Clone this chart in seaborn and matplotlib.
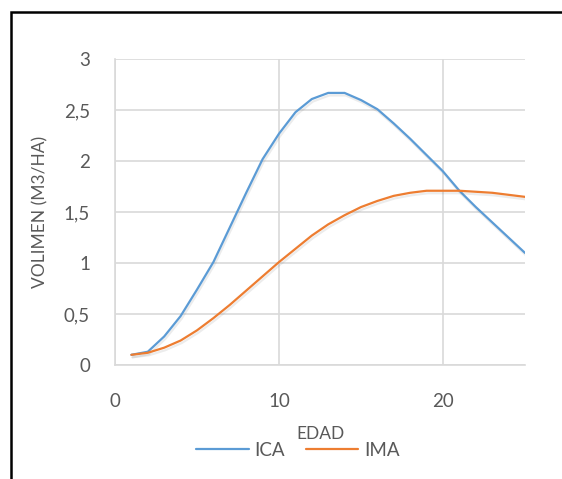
import matplotlib

matplotlib.use("Agg")
import matplotlib.patheffects as pe
import matplotlib.pyplot as plt
import pandas as pd
import seaborn as sns
from matplotlib.patches import Rectangle

edad = list(range(1, 26))
ica = [0.10, 0.13, 0.28, 0.48, 0.74, 1.01, 1.35, 1.69, 2.02, 2.27, 2.48, 2.61, 2.67,
       2.67, 2.60, 2.51, 2.37, 2.22, 2.06, 1.90, 1.71, 1.55, 1.40, 1.25, 1.10]
ima = [0.10, 0.12, 0.17, 0.24, 0.34, 0.46, 0.59, 0.73, 0.87, 1.01, 1.14, 1.27, 1.38,
       1.47, 1.55, 1.61, 1.66, 1.69, 1.71, 1.71, 1.71, 1.70, 1.69, 1.67, 1.65]
y_ticks = [0, 0.5, 1, 1.5, 2, 2.5, 3]
y_labels = ["0", "0,5", "1", "1,5", "2", "2,5", "3"]
x_ticks = [0, 10, 20]
x_labels = ["0", "10", "20"]

df = pd.DataFrame({"EDAD": edad * 2, "valor": ica + ima,
                   "serie": ["ICA"] * len(edad) + ["IMA"] * len(edad)})

sns.set_style("white")
plt.rcParams["font.family"] = ["Lato", "DejaVu Sans"]
text_color = "#595959"
grid_color = "#D9D9D9"

fig = plt.figure(figsize=(5.62, 4.79), dpi=100, facecolor="white")
ax = fig.add_axes([115 / 562, 1 - 365 / 479, 410 / 562, (365 - 59.3) / 479])

# soft Excel-like shadow under the series
shadow = [pe.SimpleLineShadow(offset=(0.8, -1.8), shadow_color="gray", alpha=0.15), pe.Normal()]
sns.lineplot(data=df, x="EDAD", y="valor", hue="serie", palette=["#5B9BD5", "#ED7D31"],
             linewidth=1.6, ax=ax, legend=True)
for line in ax.lines:
    line.set_path_effects(shadow)
    line.set_solid_joinstyle("round")

ax.set_xlim(0, 25)
ax.set_ylim(0, 3)
ax.set_xticks(x_ticks)
ax.set_xticklabels(x_labels)
ax.set_yticks(y_ticks)
ax.set_yticklabels(y_labels)
ax.tick_params(axis="both", length=0, labelsize=13.5, labelcolor=text_color)
ax.tick_params(axis="x", pad=20)
ax.tick_params(axis="y", pad=18)
ax.grid(True, color=grid_color, linewidth=1.2)
for side in ["top", "right"]:
    ax.spines[side].set_visible(False)
for side in ["left", "bottom"]:
    ax.spines[side].set_color(grid_color)
    ax.spines[side].set_linewidth(1.2)

ax.set_xlabel("")
ax.set_ylabel("")
fig.text(40 / 562, 1 - 212 / 479, "VOLIMEN (M3/HA)", rotation=90, ha="center", va="center",
         fontsize=12.5, color=text_color)
fig.text(321 / 562, 1 - 434 / 479, "EDAD", ha="center", va="center", fontsize=12.5, color=text_color)

ax.legend_.remove()
handles = ax.lines[:2]
leg = fig.legend(handles, ["ICA", "IMA"], loc="center", bbox_to_anchor=(298 / 562, 1 - 450 / 479),
                 ncol=2, frameon=False, fontsize=13.5, handlelength=2.8, handletextpad=0.3,
                 columnspacing=1.1, labelcolor=text_color)
for h in leg.legend_handles:
    h.set_path_effects([])

fig.patches.append(Rectangle((11 / 562, -0.05), 1.2, 1 - 12 / 479 + 0.05, transform=fig.transFigure,
                             fill=False, edgecolor="black", linewidth=1.8, figure=fig))

fig.savefig("out.png", dpi=100, facecolor="white")
plt.close(fig)
